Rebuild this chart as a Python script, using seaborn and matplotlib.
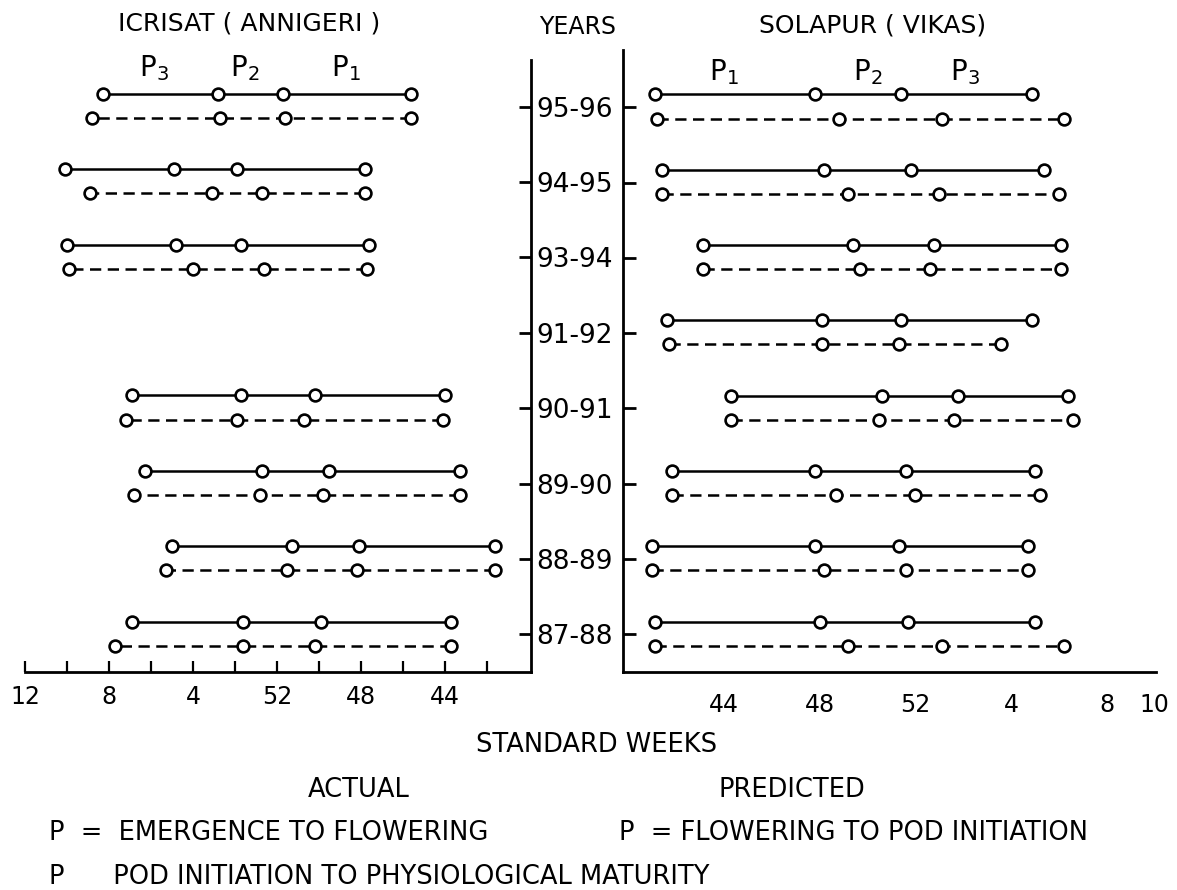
import numpy as np
import pandas as pd
import seaborn as sns
import matplotlib
matplotlib.use("Agg")
import matplotlib.pyplot as plt

sns.set_theme(style="white")
plt.rcParams["font.family"] = ["DejaVu Sans"]
plt.rcParams["mathtext.fontset"] = "dejavusans"
for key in ["text.color", "axes.labelcolor", "xtick.color", "ytick.color"]:
    plt.rcParams[key] = "black"

years = ["87-88", "88-89", "89-90", "90-91", "91-92", "93-94", "94-95", "95-96"]
stages = ["emergence", "flowering", "pod initiation", "maturity"]

# standard weeks, counted on past week 52 (week 4 of next year = 56)
icrisat_actual = [
    [43.7, 49.9, 53.6, 58.9],
    [41.6, 48.1, 51.3, 57.0],
    [43.3, 49.5, 52.7, 58.3],
    [44.0, 50.2, 53.7, 58.9],
    [np.nan, np.nan, np.nan, np.nan],
    [47.6, 53.7, 56.8, 62.0],
    [47.8, 53.9, 56.9, 62.1],
    [45.6, 51.7, 54.8, 60.3],
]
icrisat_predicted = [
    [43.7, 50.2, 53.6, 59.7],
    [41.6, 48.2, 51.5, 57.3],
    [43.3, 49.8, 52.8, 58.8],
    [44.1, 50.7, 53.9, 59.2],
    [np.nan, np.nan, np.nan, np.nan],
    [47.7, 52.6, 56.0, 61.9],
    [47.8, 52.7, 55.1, 60.9],
    [45.6, 51.6, 54.7, 60.8],
]
solapur_actual = [
    [41.1, 48.0, 51.7, 57.0],
    [41.0, 47.8, 51.3, 56.7],
    [41.8, 47.8, 51.6, 57.0],
    [44.3, 50.6, 53.8, 58.4],
    [41.6, 48.1, 51.4, 56.9],
    [43.1, 49.4, 52.8, 58.1],
    [41.4, 48.2, 51.8, 57.4],
    [41.1, 47.8, 51.4, 56.9],
]
solapur_predicted = [
    [41.1, 49.2, 53.1, 58.2],
    [41.0, 48.2, 51.6, 56.7],
    [41.8, 48.7, 52.0, 57.2],
    [44.3, 50.5, 53.6, 58.6],
    [41.7, 48.1, 51.3, 55.6],
    [43.1, 49.7, 52.6, 58.1],
    [41.4, 49.2, 53.0, 58.0],
    [41.2, 48.8, 53.1, 58.2],
]

left_ticks = list(range(64, 41, -2))
right_ticks = [44, 48, 52, 56, 60, 62]
right_labels = [44, 48, 52, 4, 8, 10]


def to_frame(actual, predicted):
    rows = []
    for kind, table, off in [("Actual", actual, 0.17), ("Predicted", predicted, -0.15)]:
        for i, yr in enumerate(years):
            for st, wk in zip(stages, table[i]):
                if not np.isnan(wk):
                    rows.append({"year": yr, "kind": kind, "stage": st, "week": wk,
                                 "ypos": i + off, "unit": yr + kind})
    return pd.DataFrame(rows)


def week_label(w):
    return str(w - 52) if w > 52 else str(w)


def draw(ax, df):
    sns.lineplot(data=df, x="week", y="ypos", units="unit", style="kind",
                 estimator=None, sort=True, color="black",
                 markers={"Actual": "o", "Predicted": "o"},
                 dashes={"Actual": "", "Predicted": (4.5, 2.6)},
                 lw=1.8, ms=8.5, mfc="white", mec="black", mew=1.9,
                 legend=False, ax=ax)
    ax.set_xlabel("")
    ax.set_ylabel("")
    for s in ax.spines.values():
        s.set_color("black")
        s.set_linewidth(2)


fig = plt.figure(figsize=(11.77, 8.9), dpi=100)
axl = fig.add_axes([25 / 1177, 218 / 890, 506 / 1177, 612 / 890])
axr = fig.add_axes([623 / 1177, 218 / 890, 533 / 1177, 622 / 890])

draw(axl, to_frame(icrisat_actual, icrisat_predicted))
draw(axr, to_frame(solapur_actual, solapur_predicted))

fs = 17
cap = 18.5

# left panel: reversed time
axl.set_xlim(64, 39.9)
axl.set_ylim(-0.5, 7.62)
axl.spines["left"].set_visible(False)
axl.spines["top"].set_visible(False)
axl.set_xticks(left_ticks)
axl.set_xticklabels([week_label(w) if (64 - w) % 4 == 0 else "" for w in left_ticks])
axl.tick_params(axis="x", direction="in", length=8, width=1.6, pad=9,
                labelsize=fs, bottom=True)
axl.yaxis.tick_right()
axl.set_yticks(range(len(years)))
axl.set_yticklabels(years)
axl.tick_params(axis="y", direction="in", length=9, width=2, pad=4,
                labelsize=fs + 2, right=True, left=False)

# right panel
axr.set_xlim(39.77, 62.07)
axr.set_ylim(-0.5, 7.76)
axr.spines["right"].set_visible(False)
axr.spines["top"].set_visible(False)
axr.set_xticks(right_ticks)
axr.set_xticklabels([str(v) for v in right_labels])
axr.tick_params(axis="x", length=0, pad=15, labelsize=fs)
axr.set_yticks(range(len(years)))
axr.set_yticklabels([])
axr.tick_params(axis="y", direction="in", length=9, width=2, left=True)

# titles and stage labels
fig.text(249 / 1177, 1 - 24 / 890, "ICRISAT ( ANNIGERI )", ha="center", va="center", fontsize=fs + 1)
fig.text(578 / 1177, 1 - 27 / 890, "YEARS", ha="center", va="center", fontsize=fs)
fig.text(873 / 1177, 1 - 26 / 890, "SOLAPUR ( VIKAS)", ha="center", va="center", fontsize=fs + 1)
for x, lab in [(154, "3"), (245, "2"), (346, "1")]:
    fig.text(x / 1177, 1 - 68 / 890, r"$\mathregular{P_%s}$" % lab, ha="center", va="center", fontsize=fs + 3)
for x, lab in [(724, "1"), (868, "2"), (965, "3")]:
    fig.text(x / 1177, 1 - 72 / 890, r"$\mathregular{P_%s}$" % lab, ha="center", va="center", fontsize=fs + 3)

# bottom captions
fig.text(596 / 1177, 1 - 745 / 890, "STANDARD WEEKS", ha="center", va="center", fontsize=cap)
fig.text(359 / 1177, 1 - 790 / 890, "ACTUAL", ha="center", va="center", fontsize=cap)
fig.text(792 / 1177, 1 - 790 / 890, "PREDICTED", ha="center", va="center", fontsize=cap)
fig.text(49 / 1177, 1 - 833 / 890, "P  =  EMERGENCE TO FLOWERING", ha="left", va="center", fontsize=cap)
fig.text(619 / 1177, 1 - 833 / 890, "P  = FLOWERING TO POD INITIATION", ha="left", va="center", fontsize=cap)
fig.text(49 / 1177, 1 - 877 / 890, "P      POD INITIATION TO PHYSIOLOGICAL MATURITY", ha="left", va="center", fontsize=cap)

fig.savefig("out.png", dpi=100, facecolor="white")
